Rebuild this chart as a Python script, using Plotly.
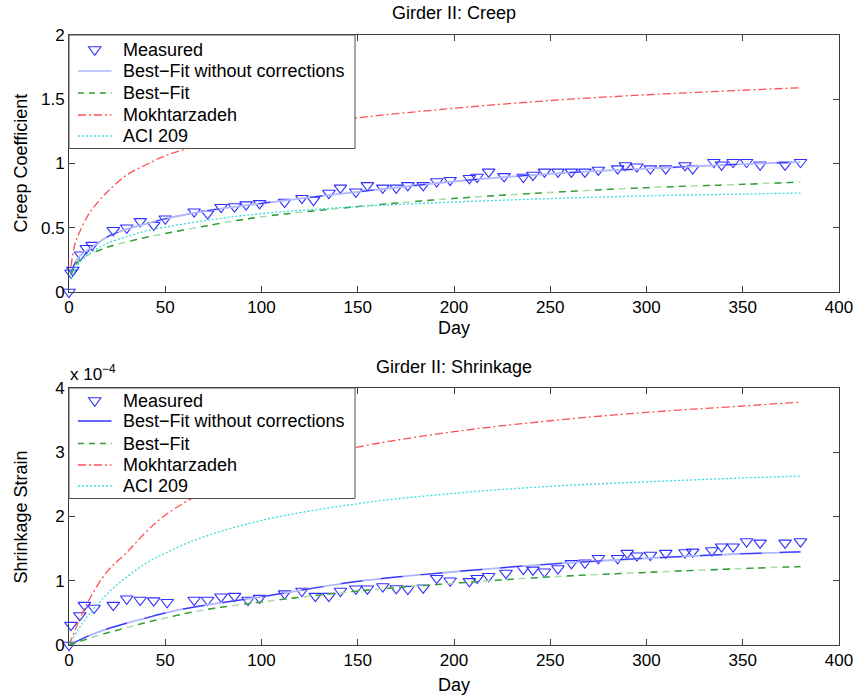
import plotly.graph_objects as go

# ---------------- data ----------------
# Creep (Girder II)
creep_meas_day = [0, 1, 2, 6, 9, 12, 23, 30, 37, 44, 50, 65, 72, 79, 86, 92, 99, 112, 121, 127,
                  135, 141, 149, 155, 163, 170, 176, 184, 191, 198, 208, 212, 218, 226, 236, 241,
                  247, 254, 261, 268, 275, 285, 289, 295, 302, 310, 320, 324, 335, 339, 345, 352,
                  359, 372, 380]
creep_meas = [0.0, 0.15, 0.17, 0.29, 0.34, 0.365, 0.48, 0.50, 0.55, 0.52, 0.57, 0.625, 0.61, 0.66,
              0.665, 0.68, 0.69, 0.70, 0.73, 0.715, 0.77, 0.81, 0.78, 0.83, 0.81, 0.81, 0.83, 0.83,
              0.86, 0.87, 0.885, 0.895, 0.935, 0.90, 0.895, 0.91, 0.935, 0.935, 0.935, 0.935, 0.95,
              0.96, 0.985, 0.975, 0.96, 0.96, 0.985, 0.96, 1.01, 0.99, 1.01, 1.01, 0.99, 0.99, 1.01]

creep_fit_day = [1, 3, 5, 10, 15, 20, 30, 40, 50, 75, 100, 150, 200, 250, 300, 350, 380]
creep_fit_nocorr = [0.15, 0.22, 0.27, 0.33, 0.38, 0.43, 0.49, 0.53, 0.57, 0.64, 0.69, 0.78, 0.86,
                    0.92, 0.96, 0.995, 1.01]
creep_fit = [0.13, 0.20, 0.24, 0.29, 0.32, 0.35, 0.39, 0.425, 0.455, 0.525, 0.585, 0.665, 0.728,
             0.775, 0.812, 0.838, 0.856]
creep_mokh = [0.20, 0.37, 0.45, 0.60, 0.70, 0.78, 0.91, 0.99, 1.06, 1.17, 1.25, 1.355, 1.43, 1.49,
              1.535, 1.57, 1.59]
creep_aci = [0.10, 0.17, 0.22, 0.29, 0.34, 0.38, 0.43, 0.475, 0.505, 0.565, 0.61, 0.665, 0.70,
             0.727, 0.748, 0.762, 0.77]

# Shrinkage (Girder II), strain in units of 1e-4
shr_meas_day = [0, 1, 5.6, 8, 13, 23, 30, 37, 44, 51, 65, 72, 79, 86, 93, 99, 112, 121, 128, 135,
                141, 149, 155, 163, 170, 176, 184, 191, 198, 208, 212, 218, 227, 236, 241, 247,
                254, 261, 268, 275, 285, 290, 295, 302, 310, 320, 324, 334, 339, 345, 352, 359,
                372, 380]
shr_meas = [0.0, 0.31, 0.46, 0.62, 0.575, 0.62, 0.72, 0.70, 0.69, 0.665, 0.70, 0.70, 0.75, 0.76,
            0.70, 0.73, 0.80, 0.84, 0.76, 0.76, 0.84, 0.875, 0.875, 0.91, 0.88, 0.87, 0.89, 1.04,
            1.00, 0.99, 1.04, 1.07, 1.12, 1.18, 1.17, 1.14, 1.19, 1.27, 1.28, 1.35, 1.35, 1.43,
            1.39, 1.40, 1.43, 1.44, 1.45, 1.47, 1.53, 1.53, 1.61, 1.59, 1.59, 1.61]

shr_fit_day = [0, 5, 10, 20, 30, 40, 50, 67, 100, 150, 200, 250, 300, 350, 380]
shr_fit_nocorr = [0, 0.07, 0.14, 0.25, 0.34, 0.42, 0.50, 0.60, 0.75, 0.99, 1.14, 1.26, 1.35, 1.42, 1.45]
shr_fit = [0, 0.05, 0.10, 0.19, 0.27, 0.35, 0.42, 0.53, 0.67, 0.84, 0.96, 1.06, 1.13, 1.19, 1.22]
shr_mokh = [0, 0.36, 0.68, 1.15, 1.44, 1.76, 2.02, 2.33, 2.72, 3.08, 3.32, 3.49, 3.62, 3.72, 3.78]
shr_aci = [0, 0.25, 0.46, 0.80, 1.06, 1.27, 1.43, 1.65, 1.94, 2.20, 2.36, 2.47, 2.54, 2.60, 2.63]

x_ticks = [0, 50, 100, 150, 200, 250, 300, 350, 400]
creep_ticks = [0, 0.5, 1, 1.5, 2]
shr_ticks = [0, 1, 2, 3, 4]

legend_labels = ["Measured", "Best\u2212Fit without corrections", "Best\u2212Fit",
                 "Mokhtarzadeh", "ACI 209"]

# ---------------- styling ----------------
W, H = 865, 696
ML, MR, MT, MB = 69, 18, 35, 51
PW, PH = W - ML - MR, H - MT - MB
FONT = "Liberation Sans, Arial, Helvetica, sans-serif"
AXC = "#3c3c3c"

MARK = "#2f2fff"
BLUE_LIGHT = "#b0b6ff"
BLUE_DARK = "#3434ff"
GREEN_LIGHT = "#a9dba9"
GREEN_DARK = "#2f9a2f"
RED = "#ff5050"
CYAN = "#3adcdc"
LW = 1.3


def px_x(px):
    return (px - ML) / PW


def px_y(py):
    return (H - MB - py) / PH


fig = go.Figure()


def add_panel(xa, ya, mday, mval, fday, nocorr, fit, mokh, aci, blue_dark_dash):
    common = dict(xaxis=xa, yaxis=ya, showlegend=False, hoverinfo="skip")
    fig.add_trace(go.Scatter(x=mday, y=mval, mode="markers", cliponaxis=False,
                             marker=dict(symbol="triangle-down-open", size=11,
                                         color=MARK, line=dict(width=1.1, color=MARK)),
                             name=legend_labels[0], **common))
    fig.add_trace(go.Scatter(x=fday, y=nocorr, mode="lines", line_shape="spline",
                             line=dict(color=BLUE_LIGHT, width=1.8),
                             name=legend_labels[1], **common))
    fig.add_trace(go.Scatter(x=fday, y=nocorr, mode="lines", line_shape="spline",
                             line=dict(color=BLUE_DARK, width=1.2, dash=blue_dark_dash),
                             name=legend_labels[1], **common))
    fig.add_trace(go.Scatter(x=fday, y=fit, mode="lines", line_shape="spline",
                             line=dict(color=GREEN_LIGHT, width=LW + 0.2, dash="7px,5px"),
                             name=legend_labels[2], **common))
    fig.add_trace(go.Scatter(x=fday, y=fit, mode="lines", line_shape="spline",
                             line=dict(color=GREEN_DARK, width=LW, dash="7px,5px,7px,17px"),
                             name=legend_labels[2], **common))
    fig.add_trace(go.Scatter(x=fday, y=mokh, mode="lines", line_shape="spline",
                             line=dict(color=RED, width=LW, dash="8px,3px,2px,3px"),
                             name=legend_labels[3], **common))
    fig.add_trace(go.Scatter(x=fday, y=aci, mode="lines", line_shape="spline",
                             line=dict(color=CYAN, width=LW, dash="2px,2px"),
                             name=legend_labels[4], **common))


add_panel("x", "y", creep_meas_day, creep_meas, creep_fit_day, creep_fit_nocorr, creep_fit,
          creep_mokh, creep_aci, "12px,40px")
add_panel("x2", "y2", shr_meas_day, shr_meas, shr_fit_day, shr_fit_nocorr, shr_fit,
          shr_mokh, shr_aci, "22px,18px")

axis_common = dict(showline=True, linecolor=AXC, linewidth=1, mirror="ticks", ticks="inside",
                   ticklen=6, tickcolor=AXC, tickwidth=1, showgrid=False, zeroline=False,
                   tickfont=dict(family=FONT, size=17, color="black"))

top_dom = [px_y(292), px_y(35)]
bot_dom = [px_y(645), px_y(388)]

fig.update_layout(
    width=W, height=H,
    margin=dict(l=ML, r=MR, t=MT, b=MB),
    paper_bgcolor="white", plot_bgcolor="white",
    showlegend=False,
    xaxis=dict(domain=[0, 1], anchor="y", range=[0, 400], tickvals=x_ticks, **axis_common),
    yaxis=dict(domain=top_dom, anchor="x", range=[0, 2], tickvals=creep_ticks, **axis_common),
    xaxis2=dict(domain=[0, 1], anchor="y2", range=[0, 400], tickvals=x_ticks, **axis_common),
    yaxis2=dict(domain=bot_dom, anchor="x2", range=[0, 4], tickvals=shr_ticks, **axis_common),
)

annotations = []
shapes = []


def text(px, py, s, size=18, angle=0, xanchor="center"):
    annotations.append(dict(x=px_x(px), y=px_y(py), xref="paper", yref="paper", text=s,
                            showarrow=False, xanchor=xanchor, yanchor="middle", textangle=angle,
                            font=dict(family=FONT, size=size, color="black")))


text(458, 13, "Girder II: Creep")
text(458, 328, "Day")
text(20, 163, "Creep Coefficient", angle=-90)
text(458, 367, "Girder II: Shrinkage")
text(458, 685, "Day")
text(20, 517, "Shrinkage Strain", angle=-90)
text(68, 373, "x 10<sup>\u22124</sup>", size=17, xanchor="left")


def legend_box(top, bottom, rows, blue_color):
    shapes.append(dict(type="rect", xref="paper", yref="paper", layer="above",
                       x0=px_x(69), x1=px_x(358), y0=px_y(bottom), y1=px_y(top),
                       fillcolor="white", line=dict(color="#505050", width=1)))
    # Measured: open downward triangle
    cx, cy = 95, rows[0]
    tri = [(cx - 6.3, cy - 3.2), (cx + 6.3, cy - 3.2), (cx, cy + 5.3)]
    path = "M " + " L ".join(f"{px_x(a):.5f},{px_y(b):.5f}" for a, b in tri) + " Z"
    shapes.append(dict(type="path", xref="paper", yref="paper", layer="above", path=path,
                       line=dict(color=MARK, width=1.1)))
    styles = [(blue_color, "solid"), (GREEN_DARK, "6px,5px"), (RED, "8px,3px,2px,3px"),
              (CYAN, "2px,2px")]
    for ry, (col, dash) in zip(rows[1:], styles):
        shapes.append(dict(type="line", xref="paper", yref="paper", layer="above",
                           x0=px_x(78), x1=px_x(112), y0=px_y(ry), y1=px_y(ry),
                           line=dict(color=col, width=LW, dash=dash)))
    for ry, lab in zip(rows, legend_labels):
        text(122, ry, lab, size=18, xanchor="left")


legend_box(35, 148.5, [50, 71, 93, 115, 136], BLUE_LIGHT)
legend_box(388, 498.5, [401, 421, 443.5, 465, 486], BLUE_DARK)

fig.update_layout(annotations=annotations, shapes=shapes)

fig.write_html("out.html")
